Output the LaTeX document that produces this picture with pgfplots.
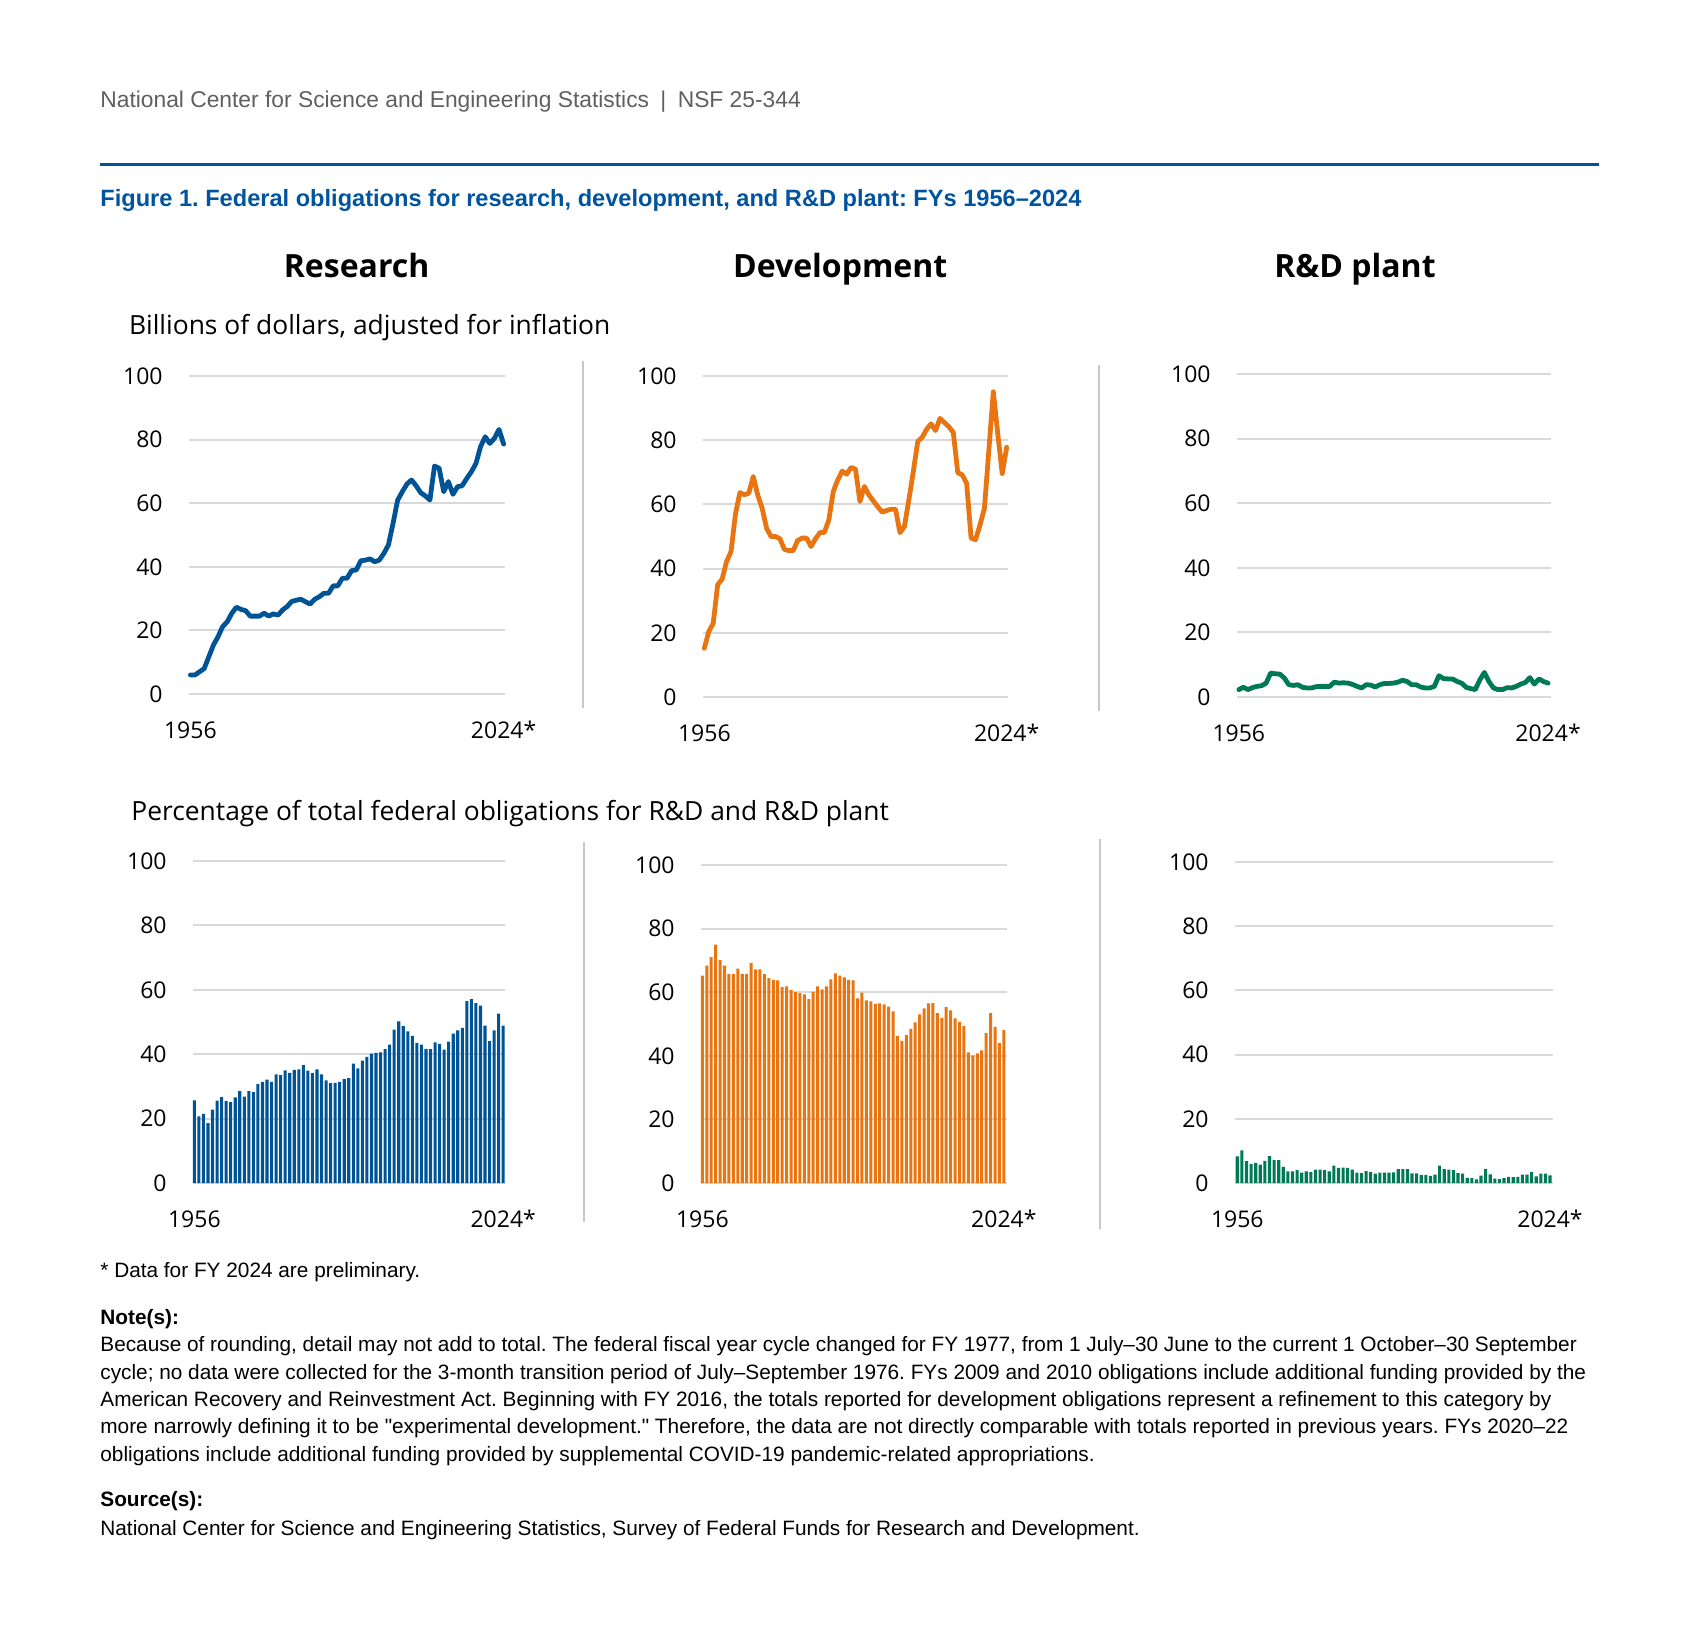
\documentclass[border=0pt]{standalone}
\usepackage{fontspec}
\setmainfont{Liberation Sans}[Ligatures=TeXOff]
\newfontfamily\os{Open Sans}
\usepackage{pgfplots}
\pgfplotsset{compat=1.18}
\usepackage{pgfplotstable}
\definecolor{rblue}{RGB}{0,84,150}
\definecolor{dorange}{RGB}{232,117,17}
\definecolor{pgreen}{RGB}{0,122,85}
\definecolor{tblue}{RGB}{0,84,159}
\definecolor{hgray}{RGB}{95,95,95}
\definecolor{gridc}{RGB}{217,217,217}
\definecolor{sepc}{RGB}{200,200,200}

\pgfplotstableread{
y v
1956 6.0
1957 6.0
1958 7.0
1959 8.0
1960 11.7
1961 15.4
1962 18.0
1963 21.2
1964 22.7
1965 25.4
1966 27.3
1967 26.6
1968 26.2
1969 24.5
1970 24.5
1971 24.5
1972 25.4
1973 24.5
1974 25.2
1975 24.8
1976 26.4
1977 27.5
1978 29.1
1979 29.5
1980 29.8
1981 29.0
1982 28.3
1983 29.8
1984 30.6
1985 31.7
1986 31.7
1987 34.0
1988 34.0
1989 36.4
1990 36.4
1991 38.8
1992 39.0
1993 41.9
1994 42.1
1995 42.5
1996 41.6
1997 42.1
1998 44.2
1999 46.9
2000 53.7
2001 61.0
2002 63.6
2003 66.0
2004 67.3
2005 65.5
2006 63.3
2007 62.3
2008 61.0
2009 71.7
2010 71.0
2011 63.6
2012 66.8
2013 62.8
2014 65.2
2015 65.5
2016 67.8
2017 69.9
2018 72.5
2019 77.8
2020 80.9
2021 78.8
2022 80.4
2023 83.2
2024 78.6
}\RL

\pgfplotstableread{
y v
1956 15.2
1957 20.4
1958 23.0
1959 35.0
1960 36.7
1961 42.2
1962 45.3
1963 57.0
1964 63.7
1965 63.0
1966 63.5
1967 68.7
1968 63.0
1969 58.8
1970 52.6
1971 50.0
1972 50.0
1973 49.3
1974 46.0
1975 45.6
1976 45.6
1977 48.8
1978 49.5
1979 49.5
1980 46.9
1981 49.3
1982 51.2
1983 51.3
1984 55.2
1985 64.0
1986 67.6
1987 70.4
1988 69.4
1989 71.5
1990 71.0
1991 60.9
1992 65.6
1993 63.0
1994 61.1
1995 59.3
1996 57.6
1997 58.1
1998 58.5
1999 58.5
2000 51.2
2001 53.1
2002 61.4
2003 70.2
2004 79.6
2005 80.9
2006 83.4
2007 85.1
2008 83.0
2009 86.8
2010 85.5
2011 84.2
2012 82.4
2013 69.9
2014 69.2
2015 66.6
2016 49.5
2017 49.0
2018 53.6
2019 58.8
2020 77.0
2021 95.1
2022 82.0
2023 69.6
2024 77.8
}\DL

\pgfplotstableread{
y v
1956 2.3
1957 3.0
1958 2.3
1959 2.9
1960 3.3
1961 3.5
1962 4.3
1963 7.4
1964 7.2
1965 7.1
1966 5.9
1967 3.8
1968 3.6
1969 3.8
1970 3.0
1971 2.8
1972 2.8
1973 3.2
1974 3.3
1975 3.3
1976 3.3
1977 4.6
1978 4.3
1979 4.4
1980 4.3
1981 3.9
1982 3.3
1983 2.8
1984 3.8
1985 3.7
1986 3.1
1987 3.8
1988 4.2
1989 4.2
1990 4.3
1991 4.6
1992 5.2
1993 4.8
1994 3.8
1995 3.8
1996 3.1
1997 2.8
1998 2.8
1999 3.3
2000 6.6
2001 5.7
2002 5.6
2003 5.6
2004 4.8
2005 4.3
2006 3.0
2007 2.6
2008 2.3
2009 5.3
2010 7.6
2011 4.8
2012 2.8
2013 2.3
2014 2.3
2015 2.9
2016 2.8
2017 3.3
2018 4.0
2019 4.5
2020 6.0
2021 4.0
2022 5.6
2023 4.8
2024 4.3
}\PL

\pgfplotstableread{
y v
1956 25.7
1957 20.7
1958 21.5
1959 18.6
1960 22.8
1961 25.6
1962 26.7
1963 25.4
1964 25.1
1965 26.6
1966 28.5
1967 26.8
1968 28.5
1969 28.2
1970 30.7
1971 31.4
1972 32.1
1973 31.4
1974 33.7
1975 33.5
1976 35.0
1977 34.2
1978 35.1
1979 35.3
1980 36.6
1981 34.9
1982 34.1
1983 35.3
1984 33.7
1985 31.9
1986 31.0
1987 31.1
1988 31.4
1989 32.3
1990 32.6
1991 37.1
1992 35.6
1993 38.0
1994 39.2
1995 40.2
1996 40.4
1997 40.6
1998 41.6
1999 43.0
2000 47.6
2001 50.2
2002 48.7
2003 47.1
2004 45.7
2005 43.5
2006 43.0
2007 41.6
2008 41.6
2009 43.7
2010 43.2
2011 41.4
2012 43.9
2013 46.4
2014 47.4
2015 48.2
2016 56.5
2017 57.1
2018 55.9
2019 55.1
2020 48.9
2021 44.1
2022 47.4
2023 52.6
2024 48.9
}\RB

\pgfplotstableread{
y v
1956 65.2
1957 68.4
1958 71.0
1959 75.0
1960 70.1
1961 68.4
1962 65.7
1963 65.7
1964 67.4
1965 65.8
1966 65.8
1967 69.2
1968 67.2
1969 67.2
1970 65.7
1971 64.4
1972 63.9
1973 63.7
1974 61.6
1975 61.8
1976 60.7
1977 60.0
1978 59.7
1979 59.3
1980 57.8
1981 60.1
1982 61.8
1983 60.9
1984 61.8
1985 64.0
1986 65.9
1987 65.2
1988 64.7
1989 63.9
1990 63.7
1991 58.1
1992 59.9
1993 57.4
1994 57.1
1995 56.3
1996 56.5
1997 56.2
1998 55.5
1999 54.0
2000 46.3
2001 44.7
2002 46.5
2003 48.5
2004 50.5
2005 53.0
2006 54.9
2007 56.5
2008 56.6
2009 53.4
2010 51.9
2011 55.3
2012 54.3
2013 51.8
2014 50.7
2015 49.3
2016 41.1
2017 40.1
2018 40.8
2019 41.7
2020 47.1
2021 53.4
2022 49.1
2023 44.0
2024 48.1
}\DB

\pgfplotstableread{
y v
1956 8.3
1957 10.2
1958 6.8
1959 6.0
1960 6.3
1961 5.7
1962 6.9
1963 8.4
1964 7.1
1965 7.1
1966 5.0
1967 3.6
1968 3.6
1969 4.0
1970 3.2
1971 3.6
1972 3.4
1973 4.2
1974 4.2
1975 4.0
1976 3.6
1977 5.4
1978 4.7
1979 4.8
1980 4.7
1981 4.2
1982 3.2
1983 3.1
1984 3.7
1985 3.4
1986 2.9
1987 3.2
1988 3.2
1989 3.2
1990 3.3
1991 4.3
1992 4.3
1993 4.3
1994 3.0
1995 3.0
1996 2.5
1997 2.5
1998 2.2
1999 2.6
2000 5.4
2001 4.3
2002 4.2
2003 4.0
2004 3.1
2005 2.9
2006 1.6
2007 1.5
2008 1.1
2009 2.3
2010 4.4
2011 2.7
2012 1.4
2013 1.2
2014 1.5
2015 1.9
2016 1.8
2017 1.9
2018 2.6
2019 2.6
2020 3.4
2021 2.1
2022 2.9
2023 2.9
2024 2.4
}\PB

\pgfplotsset{
 panel/.style={
   scale only axis, anchor=south west,
   ymin=0, ymax=100, ytick={0,20,...,100},
   xtick={1956,2024}, xticklabels={1956,2024*},
   axis line style={draw=none},
   major tick style={draw=none}, major tick length=0pt,
   ymajorgrids, grid style={gridc, line width=1pt},
   /pgf/number format/assume math mode=true,
   tick label style={font=\os\fontsize{11.5}{13}\selectfont, inner sep=0pt, text=black},
   yticklabel style={anchor=east, xshift=-13pt},
   xticklabel style={anchor=north, yshift=-13.5pt},
   clip=false,
 },
 lineplot/.style={line width=2.4pt, line join=round, line cap=round},
 barplot/.style={ybar, bar width=0.68},
}

\begin{document}
\frenchspacing
\begin{tikzpicture}
\useasboundingbox (0,0) rectangle (849.5pt,-825pt);

% header
\node[anchor=base west, inner sep=0, text=hgray, font=\fontsize{11.4}{13}\selectfont] at (50pt,-53.7pt) {National Center for Science and Engineering Statistics\enspace|\enspace NSF 25-344};
\draw[tblue, line width=1.75pt] (50pt,-82.25pt) -- (799.7pt,-82.25pt);
\node[anchor=base west, inner sep=0, text=tblue, font=\bfseries\fontsize{11.8}{13}\selectfont] at (50pt,-103pt) {Figure 1. Federal obligations for research, development, and R\&D plant: FYs 1956–2024};

% column titles
\node[anchor=base, inner sep=0, font=\os\bfseries\fontsize{16}{18}\selectfont] at (178.3pt,-138.7pt) {Research};
\node[anchor=base, inner sep=0, font=\os\bfseries\fontsize{16}{18}\selectfont] at (420.1pt,-138.7pt) {Development};
\node[anchor=base, inner sep=0, font=\os\bfseries\fontsize{16}{18}\selectfont] at (677.5pt,-138.7pt) {R\&D plant};

\node[anchor=base west, inner sep=0, font=\os\fontsize{13.2}{15}\selectfont] at (64.3pt,-167.2pt) {Billions of dollars, adjusted for inflation};
\node[anchor=base west, inner sep=0, font=\os\fontsize{13.2}{15}\selectfont] at (65.5pt,-410.3pt) {Percentage of total federal obligations for R\&D and R\&D plant};

% separators
\draw[sepc, line width=0.75pt] (291.5pt,-180.5pt) -- (291.5pt,-354pt);
\draw[sepc, line width=0.75pt] (549.5pt,-182.5pt) -- (549.5pt,-355.5pt);
\draw[sepc, line width=0.75pt] (292pt,-421pt) -- (292pt,-611pt);
\draw[sepc, line width=0.75pt] (550pt,-419.5pt) -- (550pt,-614.5pt);

% top row
\begin{axis}[panel, at={(94.5pt,-347pt)}, width=158pt, height=159pt, xmin=1955.7, xmax=2024.3]
\addplot[lineplot, rblue] table[x=y,y=v] {\RL};
\end{axis}
\begin{axis}[panel, at={(351.5pt,-348.5pt)}, width=152.5pt, height=160.5pt, xmin=1955.7, xmax=2024.3]
\addplot[lineplot, dorange] table[x=y,y=v] {\DL};
\end{axis}
\begin{axis}[panel, at={(618.5pt,-348.5pt)}, width=157pt, height=161.5pt, xmin=1955.6, xmax=2024.65]
\addplot[lineplot, pgreen] table[x=y,y=v] {\PL};
\end{axis}

% bottom row
\begin{axis}[panel, barplot, at={(96.5pt,-591.5pt)}, width=156pt, height=161pt, xmin=1955.7, xmax=2024.4]
\addplot[fill=rblue, draw=none] table[x=y,y=v] {\RB};
\end{axis}
\begin{axis}[panel, barplot, at={(350.5pt,-591.5pt)}, width=153pt, height=159pt, xmin=1955.7, xmax=2024.7]
\addplot[fill=dorange, draw=none] table[x=y,y=v] {\DB};
\end{axis}
\begin{axis}[panel, barplot, at={(617.5pt,-591.5pt)}, width=159pt, height=160.5pt, xmin=1955.5, xmax=2024.65]
\addplot[fill=pgreen, draw=none] table[x=y,y=v] {\PB};
\end{axis}

% footnotes
\begin{scope}[every node/.style={anchor=base west, inner sep=0, font=\fontsize{10.4}{12}\selectfont}]
\node at (50pt,-638.5pt) {* Data for FY 2024 are preliminary.};
\node[font=\bfseries\fontsize{10.4}{12}\selectfont] at (50pt,-662pt) {Note(s):};
\node at (50pt,-675.8pt) {Because of rounding, detail may not add to total. The federal fiscal year cycle changed for FY 1977, from 1 July–30 June to the current 1 October–30 September};
\node at (50pt,-689.5pt) {cycle; no data were collected for the 3-month transition period of July–September 1976. FYs 2009 and 2010 obligations include additional funding provided by the};
\node at (50pt,-703.2pt) {American Recovery and Reinvestment Act. Beginning with FY 2016, the totals reported for development obligations represent a refinement to this category by};
\node at (50pt,-716.8pt) {more narrowly defining it to be "experimental development." Therefore, the data are not directly comparable with totals reported in previous years. FYs 2020–22};
\node at (50pt,-730.5pt) {obligations include additional funding provided by supplemental COVID-19 pandemic-related appropriations.};
\node[font=\bfseries\fontsize{10.4}{12}\selectfont] at (50pt,-753.3pt) {Source(s):};
\node at (50pt,-767.5pt) {National Center for Science and Engineering Statistics, Survey of Federal Funds for Research and Development.};
\end{scope}
\end{tikzpicture}
\end{document}
